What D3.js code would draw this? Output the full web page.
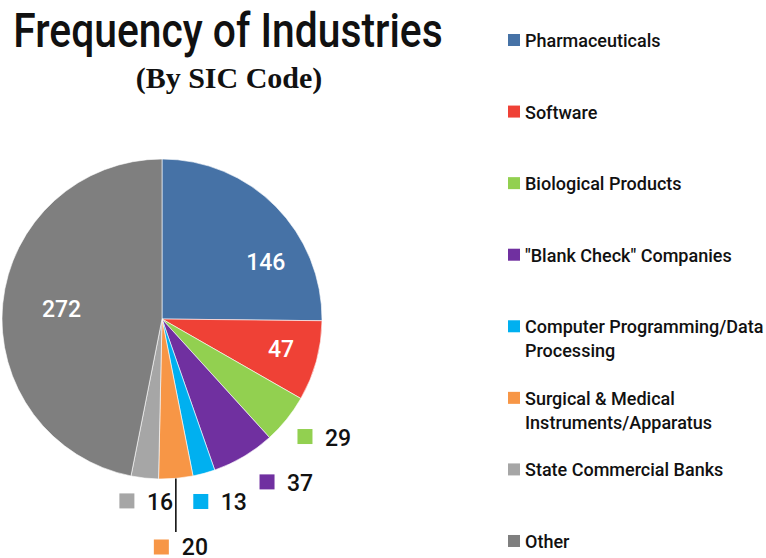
<!DOCTYPE html>
<html>
<head>
<meta charset="utf-8">
<script src="https://cdn.jsdelivr.net/npm/d3@7"></script>
<style>
  body { margin: 0; background: #fff; }
  svg { display: block; }
</style>
</head>
<body>
<div id="wrapper"></div>
<script>
// slice data, clockwise from 12 o'clock
const categories = [
    "Pharmaceuticals",
    "Software",
    "Biological Products",
    "\"Blank Check\" Companies",
    "Computer Programming/Data\nProcessing",
    "Surgical & Medical\nInstruments/Apparatus",
    "State Commercial Banks",
    "Other"
];
const values = [146, 47, 29, 37, 13, 20, 16, 272];
const colors = ["#4672A6", "#EF4136", "#92D050", "#7030A0", "#00B0F0", "#F79646", "#A6A6A6", "#7F7F7F"];
// where each value label goes: inside the slice, outside with a swatch, or on a leader line
const labelMode = ["inside", "inside", "outside", "outside", "outside", "leader", "outside", "inside"];
const labelNudge = [[22, 24], [8, 0], [-2, 1], [10, 3], [-10, 3], [0, 0], [-15, -3], [14, 1]];

const title = "Frequency of Industries";
const subtitle = "(By SIC Code)";

function buildChart() {
    const dimensions = {
        width: 766,
        height: 558,
        cx: 162,
        cy: 319,
        radius: 160,
    };

    const wrapper = d3.select("#wrapper")
        .append("svg")
        .attr("width", dimensions.width)
        .attr("height", dimensions.height);

    // no condensed font installed, so squeeze Roboto medium horizontally
    wrapper.append("g")
        .attr("transform", "translate(228,47) scale(0.85,1)")
        .append("text")
        .attr("text-anchor", "middle")
        .style("font-family", "Roboto, 'Liberation Sans', sans-serif")
        .style("font-weight", "500")
        .style("font-size", "48px")
        .style("fill", "#111")
        .text(title);

    wrapper.append("text")
        .attr("x", 229)
        .attr("y", 88)
        .attr("text-anchor", "middle")
        .style("font-family", "'Liberation Serif', 'Times New Roman', serif")
        .style("font-weight", "bold")
        .style("font-size", "30px")
        .style("fill", "#111")
        .text(subtitle);

    const data = categories.map((c, i) => ({
        name: c, value: values[i], color: colors[i], mode: labelMode[i], nudge: labelNudge[i]
    }));

    const pie = d3.pie().sort(null).value(d => d.value);
    const arcs = pie(data);

    const arcGen = d3.arc().innerRadius(0).outerRadius(dimensions.radius);
    const insideArc = d3.arc().innerRadius(115).outerRadius(115);
    const outsideArc = d3.arc().innerRadius(186).outerRadius(186);
    const edgeArc = d3.arc().innerRadius(dimensions.radius).outerRadius(dimensions.radius);

    const bounds = wrapper.append("g")
        .attr("transform", `translate(${dimensions.cx},${dimensions.cy})`);

    bounds.selectAll("path.slice")
        .data(arcs)
        .join("path")
        .attr("class", "slice")
        .attr("d", arcGen)
        .attr("fill", d => d.data.color)
        .attr("stroke", "#fff")
        .attr("stroke-width", 0.6);

    const numFont = "Roboto, 'Liberation Sans', sans-serif";

    // inside labels
    bounds.selectAll("text.inside")
        .data(arcs.filter(d => d.data.mode === "inside"))
        .join("text")
        .attr("class", "inside")
        .attr("x", d => insideArc.centroid(d)[0] + d.data.nudge[0])
        .attr("y", d => insideArc.centroid(d)[1] + d.data.nudge[1])
        .attr("dy", "0.36em")
        .attr("text-anchor", "middle")
        .style("font-family", numFont)
        .style("font-weight", "500")
        .style("font-size", "23px")
        .style("fill", "#fff")
        .text(d => d.data.value);

    // outside labels with swatch
    const outside = bounds.selectAll("g.outside")
        .data(arcs.filter(d => d.data.mode === "outside"))
        .join("g")
        .attr("class", "outside")
        .attr("transform", d => {
            const c = outsideArc.centroid(d);
            return `translate(${c[0] + d.data.nudge[0]},${c[1] + d.data.nudge[1]})`;
        });

    outside.append("rect")
        .attr("x", -7.5)
        .attr("y", -7.5)
        .attr("width", 15)
        .attr("height", 15)
        .attr("fill", d => d.data.color);

    outside.append("text")
        .attr("x", 20)
        .attr("y", 9)
        .style("font-family", numFont)
        .style("font-weight", "500")
        .style("font-size", "23px")
        .style("fill", "#111")
        .text(d => d.data.value);

    // leader line label
    const leader = arcs.filter(d => d.data.mode === "leader");
    leader.forEach(d => {
        const e = edgeArc.centroid(d);
        const endY = 532 - dimensions.cy;
        bounds.append("line")
            .attr("x1", e[0]).attr("y1", e[1])
            .attr("x2", e[0]).attr("y2", endY)
            .attr("stroke", "#111")
            .attr("stroke-width", 1.6);
        const g = bounds.append("g")
            .attr("transform", `translate(${e[0]},${endY + 15})`);
        g.append("rect")
            .attr("x", -22)
            .attr("y", -7.5)
            .attr("width", 15)
            .attr("height", 15)
            .attr("fill", d.data.color);
        g.append("text")
            .attr("x", 6)
            .attr("y", 8)
            .style("font-family", numFont)
            .style("font-weight", "500")
            .style("font-size", "23px")
            .style("fill", "#111")
            .text(d.data.value);
    });

    // legend
    const legendStep = 71.57;
    const legend = wrapper.append("g")
        .attr("transform", "translate(508,34)");

    const item = legend.selectAll("g")
        .data(data)
        .join("g")
        .attr("transform", (d, i) => `translate(0,${i * legendStep})`);

    item.append("rect")
        .attr("width", 12)
        .attr("height", 12)
        .attr("fill", d => d.color);

    item.append("text")
        .attr("x", 17)
        .attr("y", 13)
        .style("font-family", "Roboto, 'Liberation Sans', sans-serif")
        .style("font-size", "18px")
        .style("font-weight", "500")
        .style("fill", "#111")
        .selectAll("tspan")
        .data(d => d.name.split("\n"))
        .join("tspan")
        .attr("x", 17)
        .attr("dy", (l, i) => i === 0 ? 0 : 24)
        .text(l => l);
}

buildChart();
</script>
</body>
</html>
